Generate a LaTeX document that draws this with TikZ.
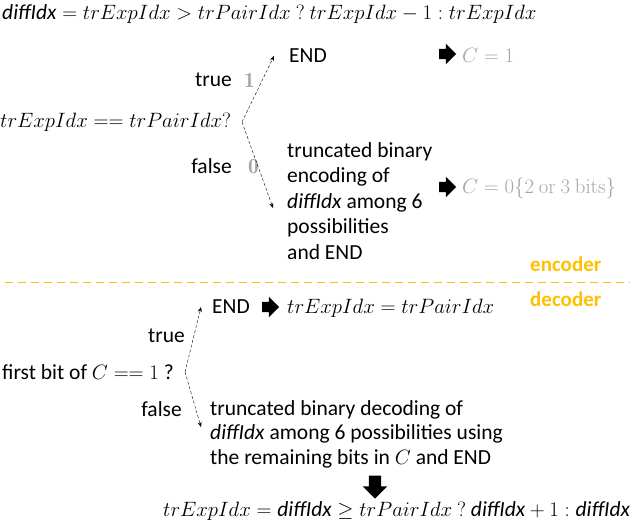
\documentclass[tikz,border=0pt]{standalone}
\usepackage[no-math]{fontspec}
\setmainfont{Carlito}
\usepackage{tikz}
\usetikzlibrary{arrows.meta,positioning,shapes.arrows}
\definecolor{encorange}{RGB}{255,192,0}
\definecolor{valgray}{RGB}{165,165,165}
\newcommand{\dIdx}{\textit{diffIdx}}
\newcommand{\bitval}[1]{{\fontfamily{lmr}\selectfont\bfseries #1}}

\begin{document}
\begin{tikzpicture}[x=1pt,y=-1pt,font=\fontsize{21.5}{25.5}\selectfont,>=Latex,
 txt/.style={anchor=west,inner sep=0pt,align=left},
 val/.style={txt,text=valgray},
 lbl/.style={anchor=east,inner sep=0pt},
 branch/.style={->,densely dashed,thin,>={Stealth[length=5pt,width=4pt]}},
 bigarrow/.style={single arrow,fill=black,inner sep=0pt,minimum height=17pt,single arrow head extend=5pt},
 role/.style={anchor=west,inner sep=0pt,text=encorange,font=\fontsize{21}{24}\selectfont\bfseries},
 sep/.style={encorange,thick,dash pattern=on 8pt off 5pt}]
\useasboundingbox (0,0) rectangle (640,524);
% encoder
\node[txt] (top) at (2,14) {$\dIdx = trExpIdx > trPairIdx\ ?\ trExpIdx-1 : trExpIdx$};
\node[txt] (q1) at (0,122) {$trExpIdx == trPairIdx?$};
\coordinate (j1) at (242,122);
\node[txt] (end1) at (289,56) {END};
\node[txt] (enc1) at (287,201) {truncated binary\\encoding of\\\dIdx{} among 6\\possibilities\\and END};
\node[lbl] (t1) at (232,80) {true};
\node[val] (one) at (244,80) {\bitval{1}};
\node[lbl] (f1) at (232,166) {false};
\node[val] (zero) at (248,167) {\bitval{0}};
\draw[branch] (j1) -- ([xshift=-15pt]end1.west);
\draw[branch] (j1) -- ([shift={(-14,7)}]enc1.west);
\node[bigarrow] (ar1) at (445,54) {\rule{0pt}{10pt}};
\node[val] (c1) at (462,55) {$C=1$};
\node[bigarrow] (ar2) at (445,187) {\rule{0pt}{10pt}};
\node[val] (c0) at (462,188) {$C=0\{2\ \mathrm{or}\ 3\ \mathrm{bits}\}$};
\node[role] (enc) at (530,264) {encoder};
% separator
\coordinate (sepL) at (5,282);
\coordinate (sepR) at (630,282);
\draw[sep] (sepL) -- (sepR);
% decoder
\node[role] (dec) at (530,299) {decoder};
\node[txt] (q2) at (2,372) {first bit of $C == 1$ ?};
\coordinate (j2) at (185,372);
\node[txt] (end2) at (212,307) {END};
\node[bigarrow] (ar3) at (268,307) {\rule{0pt}{10pt}};
\node[txt] (eq2) at (287,308) {$trExpIdx = trPairIdx$};
\node[lbl] (t2) at (185,336) {true};
\node[lbl] (f2) at (182,409) {false};
\node[txt,font=\fontsize{21.5}{24.5}\selectfont] (dcd) at (210,434) {truncated binary decoding of\\\dIdx{} among 6 possibilities using\\the remaining bits in $C$ and END};
\draw[branch] (j2) -- ([xshift=-11pt]end2.west);
\draw[branch] (j2) -- ([shift={(-9,-7)}]dcd.west);
\node[bigarrow,shape border rotate=270,minimum height=23pt,single arrow head extend=6pt] (ar4) at (375,484) {\rule{12pt}{12pt}};
\node[txt] (res) at (163,511) {$trExpIdx = \dIdx \geq trPairIdx\ ?\ \dIdx+1 : \dIdx$};
\end{tikzpicture}
\end{document}
